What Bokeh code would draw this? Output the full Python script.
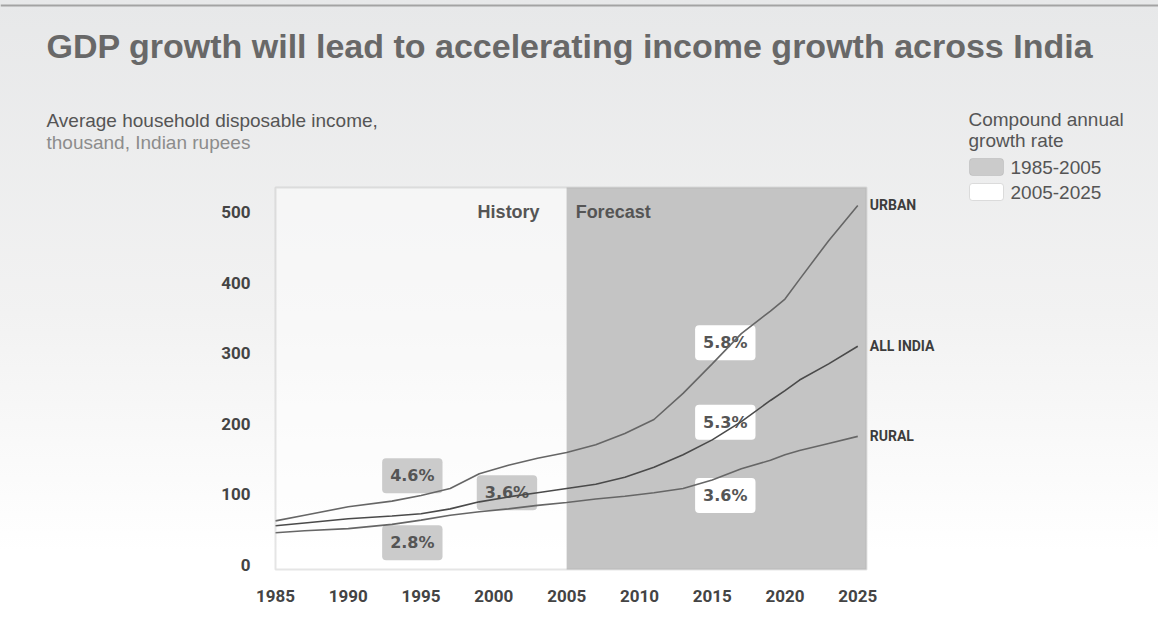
from bokeh.plotting import figure
from bokeh.models import Label, BoxAnnotation, FixedTicker, Range1d
from bokeh.embed import file_html
from bokeh.resources import INLINE

# ---- data ----
years = [1985, 1987, 1990, 1993, 1995, 1997, 1999, 2001, 2003, 2005, 2007,
         2009, 2011, 2013, 2015, 2017, 2019, 2020, 2021, 2023, 2025]
urban = [62, 70, 82, 90, 98, 108, 129, 141, 151, 159, 170,
         186, 206, 243, 285, 328, 360, 377, 405, 460, 510]
all_india = [55, 59, 65, 69, 72, 79, 89, 96, 102, 108, 114,
             124, 138, 156, 177, 203, 233, 247, 262, 285, 310]
rural = [45, 48, 51, 57, 63, 70, 75, 79, 84, 88, 93,
         97, 102, 108, 120, 136, 148, 156, 162, 172, 182]
series_names = ["URBAN", "ALL INDIA", "RURAL"]

x_ticks = [1985, 1990, 1995, 2000, 2005, 2010, 2015, 2020, 2025]
y_ticks = [0, 100, 200, 300, 400, 500]
forecast_start = 2005

# compound annual growth rates and where their tags sit
rate_text = ["4.6%", "3.6%", "2.8%", "5.8%", "5.3%", "3.6%"]
rate_period = ["1985-2005", "1985-2005", "1985-2005", "2005-2025", "2005-2025", "2005-2025"]
rate_x = [1994.4, 2000.9, 1994.4, 2015.9, 2015.9, 2015.9]
rate_y = [126, 102, 31, 315, 202, 98]
periods = ["1985-2005", "2005-2025"]
period_fill = {"1985-2005": "#cbcbcb", "2005-2025": "#ffffff"}

# ---- layout ----
W, H = 1158, 627
BOX_X0, BOX_X1 = 1985.0, 2025.6      # plot box in data units
BOX_Y0, BOX_Y1 = -7.1, 535.5
BOX_LEFT_PX, BOX_RIGHT_PX = 275, 866  # where the plot box sits on the canvas
BOX_TOP_PX, BOX_BOTTOM_PX = 187, 569
kx = (BOX_X1 - BOX_X0) / (BOX_RIGHT_PX - BOX_LEFT_PX)
ky = (BOX_Y1 - BOX_Y0) / (BOX_BOTTOM_PX - BOX_TOP_PX)
x_range = Range1d(BOX_X0 - BOX_LEFT_PX * kx, BOX_X1 + (W - BOX_RIGHT_PX) * kx)
y_range = Range1d(BOX_Y0 - (H - BOX_BOTTOM_PX) * ky, BOX_Y1 + BOX_TOP_PX * ky)

TXT = "#555555"

p = figure(width=W, height=H, output_backend="svg", toolbar_location=None,
           x_range=x_range, y_range=y_range, min_border=0)
p.border_fill_alpha = 0
p.background_fill_alpha = 0
p.outline_line_color = None
p.styles = {"background": "linear-gradient(to bottom, #e7e8e9 0%, #f2f2f2 50%, #ffffff 88%)"}
p.grid.visible = False

for ax in (p.xaxis[0], p.yaxis[0]):
    ax.axis_line_color = None
    ax.major_tick_line_color = None
    ax.minor_tick_line_color = None
    ax.major_label_text_font = "Roboto"
    ax.major_label_text_font_style = "bold"
    ax.major_label_text_font_size = "17px"
    ax.major_label_text_color = "#444444"
p.xaxis.ticker = FixedTicker(ticks=x_ticks)
p.yaxis.ticker = FixedTicker(ticks=y_ticks)
p.xaxis.fixed_location = BOX_Y0
p.yaxis.fixed_location = BOX_X0
p.xaxis.major_label_standoff = 14
p.yaxis.major_label_standoff = 19

# thin rule at top of page
p.add_layout(BoxAnnotation(top=H - 4, bottom=H - 6, top_units="screen", bottom_units="screen",
                           fill_color="#a3a3a3", fill_alpha=1, line_color=None, level="underlay"))

# history / forecast regions
p.add_layout(BoxAnnotation(left=BOX_X0, right=forecast_start, bottom=BOX_Y0, top=BOX_Y1,
                           fill_color="#ffffff", fill_alpha=0.45, line_color=None,
                           level="underlay"))
p.add_layout(BoxAnnotation(left=forecast_start, right=BOX_X1, bottom=BOX_Y0, top=BOX_Y1,
                           fill_color="#c4c4c4", fill_alpha=1, line_color=None,
                           level="underlay"))
p.add_layout(BoxAnnotation(left=BOX_X0, right=BOX_X1, bottom=BOX_Y0, top=BOX_Y1,
                           fill_alpha=0, line_color="#a9a9a9", line_width=2))

p.add_layout(Label(x=forecast_start, y=H - 211, y_units="screen", x_offset=-27, text="History",
                   text_align="right", text_baseline="middle", text_font="Liberation Sans",
                   text_font_style="bold", text_font_size="18px", text_color=TXT))
p.add_layout(Label(x=forecast_start, y=H - 211, y_units="screen", x_offset=9, text="Forecast",
                   text_align="left", text_baseline="middle", text_font="Liberation Sans",
                   text_font_style="bold", text_font_size="18px", text_color=TXT))

# growth-rate tags (under the lines)
for t, per, rx, ry in zip(rate_text, rate_period, rate_x, rate_y):
    p.add_layout(Label(x=rx, y=ry, text=t, text_align="center", text_baseline="middle",
                       text_font="DejaVu Sans", text_font_style="bold", text_font_size="16px",
                       text_color=TXT, background_fill_color=period_fill[per],
                       background_fill_alpha=1, border_radius=4, padding=8,
                       level="underlay"))

# lines
line_cols = ["#666666", "#4a4a4a", "#666666"]
for vals, col in zip([urban, all_india, rural], line_cols):
    p.line(years, vals, line_color=col, line_width=1.6)

# end labels
for name, vals in zip(series_names, [urban, all_india, rural]):
    p.add_layout(Label(x=years[-1], y=vals[-1], x_offset=12, text=name,
                       text_align="left", text_baseline="middle", text_font="Roboto",
                       text_font_style="bold", text_font_size="14px", text_color="#3d3d3d"))

def screen_text(x, y_mid, text, size="19px", color=TXT, style="normal"):
    p.add_layout(Label(x=x, y=H - y_mid, x_units="screen", y_units="screen", text=text,
                       text_align="left", text_baseline="middle",
                       text_font="Liberation Sans", text_font_style=style,
                       text_font_size=size, text_color=color))

# title and subtitle
screen_text(46, 45, "GDP growth will lead to accelerating income growth across India",
            size="34px", color="#686868", style="bold")
screen_text(46, 120, "Average household disposable income,")
screen_text(46, 142, "thousand, Indian rupees", color="#8c8c8c")

# legend
screen_text(968, 119, "Compound annual")
screen_text(968, 140, "growth rate")
for i, per in enumerate(periods):
    top_px = 158 + i * 25
    p.add_layout(BoxAnnotation(left=969, right=1003, top=H - top_px, bottom=H - top_px - 17,
                               left_units="screen", right_units="screen",
                               top_units="screen", bottom_units="screen",
                               fill_color=period_fill[per], fill_alpha=1,
                               line_color="#9a9a9a", line_width=1, border_radius=3))
    screen_text(1010, top_px + 9, per)

open("out.html", "w").write(file_html(p, INLINE))
